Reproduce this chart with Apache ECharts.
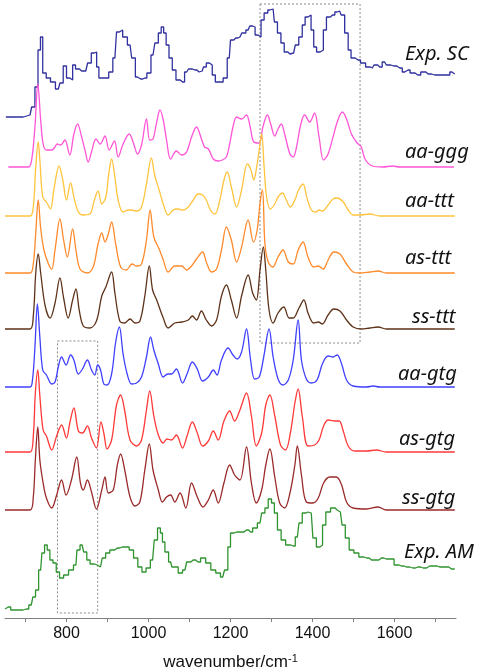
<!DOCTYPE html>
<html>
<head>
<meta charset="utf-8">
<script src="https://cdn.jsdelivr.net/npm/echarts@6/dist/echarts.min.js"></script>
<style>
  html, body { margin: 0; padding: 0; background: #fff; }
  #chart { width: 484px; height: 672px; }
</style>
</head>
<body>
<div id="chart"></div>
<script>
// each spectrum: [wavenumber, height above its own baseline]
var expSC = [[652,0],[678,0],[711,2],[719,10],[727,30],[734,67],[739,80],[745,44],[756,39],[766,35],[780,28],[788,34],[796,51],[804,39],[812,37],[818,52],[826,48],[837,46],[847,46],[856,54],[865,64],[871,65],[876,50],[882,39],[898,39],[908,45],[918,59],[926,85],[932,87],[942,80],[955,72],[963,59],[973,40],[981,38],[991,39],[1001,44],[1011,62],[1020,74],[1028,84],[1034,90],[1040,84],[1046,72],[1054,59],[1062,47],[1072,37],[1083,35],[1093,45],[1102,48],[1113,47],[1123,45],[1131,46],[1137,50],[1145,54],[1152,52],[1159,42],[1167,35],[1177,35],[1187,39],[1197,59],[1203,77],[1213,79],[1223,80],[1232,84],[1243,87],[1251,91],[1257,90],[1263,82],[1271,80],[1278,97],[1286,104],[1296,107],[1304,108],[1310,95],[1319,84],[1327,74],[1335,65],[1345,63],[1354,64],[1362,72],[1371,80],[1379,92],[1385,100],[1393,102],[1400,87],[1406,70],[1414,65],[1423,67],[1430,87],[1438,100],[1449,102],[1460,105],[1466,106],[1474,102],[1483,84],[1491,67],[1497,59],[1511,57],[1523,54],[1536,50],[1546,49],[1554,52],[1564,50],[1576,55],[1584,52],[1598,51],[1613,49],[1625,45],[1633,47],[1643,44],[1657,42],[1671,45],[1682,43],[1698,42],[1714,42],[1730,42],[1740,45],[1747,43]];

var aaGgg = [[658,0],[707,0],[715,7],[723,40],[730,83],[737,47],[743,23],[751,17],[764,17],[772,20],[777,23],[786,22],[796,27],[808,12],[818,33],[827,43],[837,30],[845,17],[853,5],[861,15],[872,28],[882,23],[894,31],[904,17],[917,26],[926,10],[938,23],[953,33],[964,23],[973,13],[983,22],[995,48],[1003,27],[1011,28],[1020,45],[1028,57],[1036,47],[1044,27],[1054,8],[1068,16],[1081,12],[1093,15],[1105,30],[1117,40],[1130,27],[1137,20],[1146,18],[1158,8],[1170,6],[1180,7],[1190,10],[1198,23],[1206,40],[1215,50],[1227,48],[1239,52],[1247,42],[1257,25],[1270,24],[1279,40],[1290,52],[1298,43],[1308,31],[1316,38],[1324,43],[1332,33],[1345,13],[1353,10],[1361,20],[1371,42],[1381,52],[1393,45],[1405,54],[1416,30],[1427,7],[1438,13],[1450,30],[1462,47],[1473,55],[1483,48],[1495,33],[1509,24],[1519,20],[1528,8],[1546,1],[1571,0],[1595,1],[1613,0],[1745,0]];

var aaTtt = [[650,0],[711,0],[719,9],[725,49],[731,74],[735,56],[742,19],[751,14],[761,7],[769,26],[782,50],[791,36],[800,16],[810,33],[818,19],[829,4],[841,1],[857,2],[868,16],[877,25],[886,12],[896,19],[903,42],[910,57],[918,39],[926,16],[938,4],[951,6],[959,6],[971,5],[983,9],[995,32],[1007,58],[1015,41],[1026,26],[1036,12],[1048,1],[1060,6],[1072,7],[1085,6],[1097,9],[1109,16],[1121,22],[1132,21],[1141,16],[1151,6],[1162,2],[1174,16],[1184,36],[1192,44],[1202,29],[1215,9],[1227,26],[1241,52],[1249,47],[1257,36],[1263,47],[1270,66],[1276,82],[1282,49],[1288,19],[1297,7],[1308,12],[1316,19],[1327,23],[1336,16],[1346,9],[1357,16],[1366,26],[1377,32],[1386,19],[1397,6],[1408,4],[1416,6],[1424,5],[1438,11],[1450,17],[1460,18],[1475,14],[1487,6],[1499,1],[1515,1],[1540,2],[1564,0],[1747,0]];

var asTtt = [[650,0],[711,0],[719,9],[725,40],[731,73],[737,45],[745,23],[756,9],[764,4],[772,23],[784,54],[793,33],[802,16],[815,44],[823,23],[833,4],[851,0],[865,6],[877,29],[886,40],[894,31],[902,39],[910,51],[920,29],[932,6],[946,3],[960,9],[971,7],[983,9],[995,33],[1004,63],[1013,36],[1026,24],[1036,13],[1048,1],[1064,7],[1081,7],[1093,3],[1105,7],[1117,14],[1132,21],[1141,11],[1154,1],[1166,4],[1178,23],[1190,46],[1202,33],[1215,11],[1227,26],[1243,53],[1256,31],[1265,43],[1272,70],[1278,83],[1284,29],[1292,11],[1303,6],[1316,16],[1328,23],[1341,11],[1353,9],[1365,23],[1377,31],[1389,16],[1403,6],[1414,7],[1426,4],[1438,13],[1452,21],[1467,19],[1483,9],[1499,1],[1515,0],[1540,1],[1560,2],[1580,0],[1747,0]];

var ssTtt = [[650,0],[711,0],[719,13],[725,56],[731,75],[737,56],[748,23],[760,11],[772,26],[784,51],[793,31],[804,11],[815,29],[823,40],[831,19],[841,3],[857,1],[873,8],[886,33],[896,42],[910,57],[918,36],[930,8],[942,6],[955,10],[967,6],[979,8],[991,33],[1002,63],[1010,39],[1020,29],[1036,11],[1048,1],[1064,6],[1081,7],[1097,9],[1107,13],[1117,9],[1129,18],[1141,9],[1154,3],[1166,9],[1178,33],[1190,44],[1202,29],[1215,11],[1227,33],[1243,54],[1254,36],[1263,29],[1272,59],[1280,82],[1286,59],[1294,19],[1304,6],[1316,16],[1330,22],[1343,11],[1353,11],[1367,21],[1379,29],[1389,16],[1403,6],[1414,7],[1424,5],[1438,14],[1452,20],[1467,18],[1483,9],[1499,2],[1519,0],[1540,1],[1560,2],[1580,0],[1747,0]];

var aaGtg = [[650,0],[711,0],[717,7],[723,40],[729,83],[735,50],[742,17],[751,12],[764,3],[772,5],[780,20],[788,30],[799,22],[810,32],[818,27],[829,13],[839,18],[851,27],[861,17],[869,12],[876,22],[883,17],[891,3],[899,2],[910,13],[920,45],[929,60],[938,33],[948,13],[959,3],[971,4],[983,10],[995,30],[1005,50],[1013,37],[1024,23],[1036,10],[1047,13],[1056,13],[1068,18],[1083,4],[1094,13],[1107,25],[1119,18],[1132,6],[1146,10],[1158,17],[1167,12],[1178,27],[1194,39],[1206,32],[1216,28],[1227,35],[1239,58],[1249,27],[1259,8],[1270,10],[1281,30],[1294,58],[1304,30],[1316,8],[1328,2],[1341,7],[1353,27],[1365,67],[1373,27],[1385,8],[1397,4],[1411,7],[1424,23],[1438,31],[1450,30],[1460,32],[1471,23],[1483,7],[1499,1],[1532,0],[1548,1],[1564,0],[1747,0]];

var asGtg = [[650,0],[711,0],[719,16],[724,59],[730,82],[735,56],[743,22],[751,16],[764,2],[776,16],[788,27],[800,14],[808,29],[818,44],[829,21],[839,19],[851,26],[861,14],[873,4],[884,30],[891,19],[899,3],[910,12],[922,47],[932,57],[942,41],[955,12],[971,6],[983,12],[995,42],[1003,61],[1013,36],[1024,17],[1036,9],[1045,13],[1056,12],[1068,17],[1083,4],[1094,16],[1107,30],[1119,19],[1132,6],[1146,11],[1158,21],[1170,12],[1184,31],[1198,41],[1210,31],[1223,42],[1239,59],[1251,36],[1263,6],[1276,19],[1286,47],[1296,57],[1308,36],[1322,7],[1334,2],[1346,19],[1357,49],[1365,63],[1375,36],[1389,6],[1405,7],[1416,12],[1427,26],[1438,32],[1454,31],[1465,31],[1475,21],[1487,6],[1503,1],[1532,1],[1556,2],[1580,0],[1747,0]];

var ssGtg = [[650,0],[711,0],[719,13],[724,50],[730,83],[735,50],[743,27],[751,12],[764,2],[776,15],[788,30],[799,15],[812,30],[825,53],[834,27],[841,20],[851,30],[861,18],[873,1],[886,20],[894,33],[902,17],[914,20],[924,45],[932,56],[942,40],[955,13],[967,4],[979,8],[991,40],[1002,66],[1011,40],[1024,20],[1034,8],[1044,13],[1054,15],[1064,8],[1077,17],[1091,2],[1105,27],[1119,13],[1133,3],[1146,10],[1158,20],[1170,7],[1184,27],[1198,45],[1210,35],[1223,30],[1239,63],[1251,27],[1263,7],[1276,20],[1286,45],[1296,61],[1308,33],[1320,7],[1332,2],[1345,17],[1357,45],[1363,64],[1373,35],[1385,8],[1401,7],[1414,12],[1427,27],[1442,33],[1458,33],[1471,25],[1483,8],[1499,2],[1532,1],[1560,3],[1580,0],[1747,0]];

var expAM = [[650,1],[658,3],[670,0],[686,0],[702,1],[714,5],[722,13],[727,20],[737,40],[743,57],[750,65],[756,60],[763,50],[771,47],[779,38],[787,32],[799,35],[811,40],[823,45],[828,60],[838,65],[846,58],[853,50],[862,46],[875,45],[883,43],[891,52],[900,57],[911,60],[924,62],[936,63],[948,63],[958,60],[969,52],[979,43],[989,38],[999,42],[1010,50],[1018,70],[1026,82],[1032,77],[1036,68],[1044,58],[1054,48],[1060,43],[1068,43],[1077,37],[1089,40],[1097,48],[1109,50],[1121,48],[1133,52],[1146,47],[1158,40],[1170,37],[1181,33],[1190,40],[1197,63],[1203,77],[1215,78],[1227,78],[1239,80],[1249,78],[1259,82],[1272,87],[1280,97],[1288,102],[1296,111],[1304,107],[1310,97],[1319,80],[1328,70],[1341,65],[1353,64],[1363,73],[1371,87],[1379,97],[1389,98],[1397,97],[1405,72],[1414,63],[1422,65],[1427,85],[1438,98],[1450,102],[1460,100],[1468,98],[1476,85],[1484,72],[1495,60],[1507,57],[1519,53],[1532,52],[1544,50],[1556,50],[1568,52],[1580,51],[1593,51],[1605,45],[1617,44],[1629,43],[1645,42],[1657,43],[1670,42],[1686,44],[1698,44],[1710,43],[1726,43],[1739,41],[1747,41]];

var names = ['Exp. SC', 'aa-ggg', 'aa-ttt', 'as-ttt', 'ss-ttt', 'aa-gtg', 'as-gtg', 'ss-gtg', 'Exp. AM'];
var spectra = [expSC, aaGgg, aaTtt, asTtt, ssTtt, aaGtg, asGtg, ssGtg, expAM];
var offsets = [501, 451, 402, 345, 289, 231, 166, 108, 8];
var colors = ['#30309e', '#ff55d8', '#ffc43d', '#ff8a2b', '#5e3219', '#4040ff', '#ff3838', '#9b2a2a', '#2f942f'];
var stepped = [true, false, false, false, false, false, false, false, true];

var xTicks = [700, 800, 900, 1000, 1100, 1200, 1300, 1400, 1500, 1600, 1700];
var xLabels = [800, 1000, 1200, 1400, 1600];

// dotted boxes [x1, y1, x2, y2] in data units
var boxes = [[1272, 614, 1516, 275], [778, 277, 876, 5]];

// label positions (px)
var labelPos = [[405, 54], [405, 152], [405, 201], [405, 258], [412, 317], [398, 374], [399, 439], [402, 498], [404, 552]];

var chart = echarts.init(document.getElementById('chart'));

var series = spectra.map(function (s, i) {
  return {
    name: names[i],
    type: 'line',
    data: s.map(function (p) { return [p[0], p[1] + offsets[i]]; }),
    smooth: stepped[i] ? false : 0.35,
    step: stepped[i] ? 'middle' : false,
    showSymbol: false,
    lineStyle: { color: colors[i], width: 1.3 },
    z: 2
  };
});

series.push({
  type: 'line',
  data: [],
  markArea: {
    silent: true,
    itemStyle: { color: 'rgba(0,0,0,0)', borderColor: '#8a8a8a', borderWidth: 1, borderType: [2, 2] },
    data: boxes.map(function (b) { return [{ coord: [b[0], b[1]] }, { coord: [b[2], b[3]] }]; })
  }
});

var option = {
  animation: false,
  grid: { left: 5, right: 28, top: 0, bottom: 54, containLabel: false, outerBoundsMode: 'none' },
  xAxis: {
    type: 'value',
    min: 650,
    max: 1750,
    name: 'wavenumber/cm{sup|-1}',
    nameLocation: 'middle',
    nameGap: 35,
    nameTextStyle: {
      fontSize: 17, color: '#111', fontFamily: 'Liberation Sans',
      rich: { sup: { fontSize: 11, color: '#111', fontFamily: 'Liberation Sans', verticalAlign: 'top', padding: [0, 0, 8, 0] } }
    },
    splitLine: { show: false },
    axisLine: { lineStyle: { color: '#808080', width: 1 } },
    axisTick: { customValues: xTicks, length: 4, lineStyle: { color: '#808080' } },
    axisLabel: {
      customValues: xLabels, fontSize: 16, color: '#111', fontFamily: 'Liberation Sans', margin: 8,
      formatter: function (v) { return String(v); }
    }
  },
  yAxis: {
    type: 'value', min: 0, max: 618, show: false, splitLine: { show: false }
  },
  graphic: names.map(function (n, i) {
    return {
      type: 'text',
      x: labelPos[i][0],
      y: labelPos[i][1],
      style: { text: n, fontSize: 20, fontStyle: 'italic', fontFamily: 'Noto Sans', fill: '#111', verticalAlign: 'middle', align: 'left' }
    };
  }),
  series: series
};

chart.setOption(option);
</script>
</body>
</html>
